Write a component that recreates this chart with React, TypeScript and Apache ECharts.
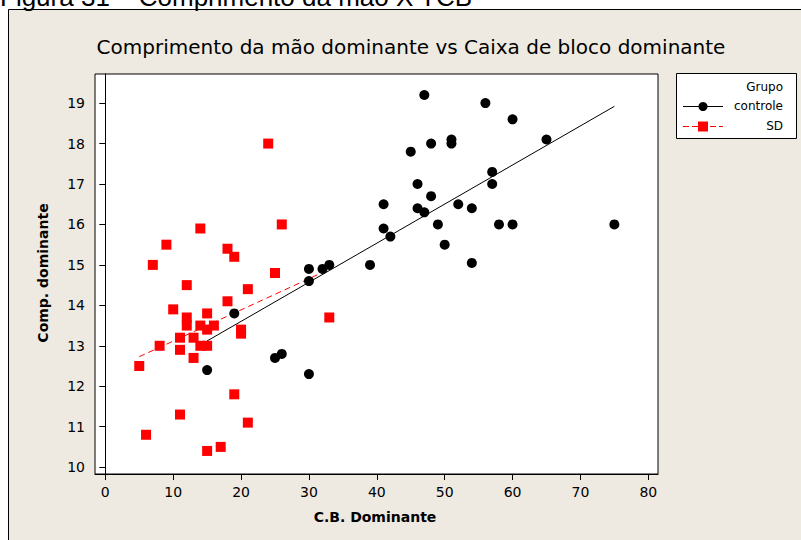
import React, { useEffect, useRef } from "react";
import * as echarts from "echarts";

// Grupo controle (C.B. Dominante, Comp. dominante)
const controleX = [47, 56, 60, 51, 51, 48, 45, 65, 57, 57, 46, 48, 41, 46, 47, 52, 54, 41, 42, 49, 58, 60, 75, 50, 54, 39, 30, 32, 33, 30, 19, 15, 25, 26, 30];
const controleY = [19.2, 19.0, 18.6, 18.1, 18.0, 18.0, 17.8, 18.1, 17.3, 17.0, 17.0, 16.7, 16.5, 16.4, 16.3, 16.5, 16.4, 15.9, 15.7, 16.0, 16.0, 16.0, 16.0, 15.5, 15.05, 15.0, 14.9, 14.9, 15.0, 14.6, 13.8, 12.4, 12.7, 12.8, 12.3];

// Grupo SD
const sdX = [24, 14, 26, 9, 18, 19, 7, 25, 12, 21, 18, 10, 15, 33, 12, 12, 14, 15, 16, 20, 20, 11, 13, 8, 14, 15, 11, 13, 5, 19, 11, 21, 6, 15, 17];
const sdY = [18.0, 15.9, 16.0, 15.5, 15.4, 15.2, 15.0, 14.8, 14.5, 14.4, 14.1, 13.9, 13.8, 13.7, 13.7, 13.5, 13.5, 13.4, 13.5, 13.4, 13.3, 13.2, 13.2, 13.0, 13.0, 13.0, 12.9, 12.7, 12.5, 11.8, 11.3, 11.1, 10.8, 10.4, 10.5];

// Fitted lines (endpoints)
const fitControleX = [15, 75];
const fitControleY = [13.12, 18.92];
const fitSDX = [5, 33];
const fitSDY = [12.73, 14.89];

const xTicks = [0, 10, 20, 30, 40, 50, 60, 70, 80];
const yTicks = [10, 11, 12, 13, 14, 15, 16, 17, 18, 19];

const caption = "Figura 31 – Comprimento da mão X TCB";
const chartTitle = "Comprimento da mão dominante vs Caixa de bloco dominante";
const xName = "C.B. Dominante";
const yName = "Comp. dominante";
const legendTitle = "Grupo";
const legendNames = ["controle", "SD"];

const FONT = "DejaVu Sans";

export default function App() {
  const ref = useRef<HTMLDivElement>(null);
  useEffect(() => {
    if (!ref.current) return;
    const chart = echarts.init(ref.current, undefined, { renderer: "svg" });
    const zip = (a: number[], b: number[]) => a.map((v, i) => [v, b[i]]);
    chart.setOption({
      animation: false,
      backgroundColor: "#ffffff",
      grid: {
        left: 95,
        top: 74,
        width: 563,
        height: 400,
        show: true,
        backgroundColor: "#ffffff",
        borderColor: "#000000",
        borderWidth: 1,
      },
      xAxis: {
        type: "value",
        min: -1.52,
        max: 81.43,
        axisLine: { show: true, lineStyle: { color: "#000", width: 1 } },
        axisTick: { show: true, customValues: xTicks, length: 6, lineStyle: { color: "#000" } },
        axisLabel: {
          customValues: xTicks,
          margin: 11,
          color: "#000",
          fontFamily: FONT,
          fontSize: 14,
        },
        splitLine: { show: false },
      },
      yAxis: {
        type: "value",
        min: 9.83,
        max: 19.72,
        axisLine: { show: true, lineStyle: { color: "#000", width: 1 } },
        axisTick: { show: true, customValues: yTicks, length: 6, lineStyle: { color: "#000" } },
        axisLabel: {
          customValues: yTicks,
          margin: 10,
          color: "#000",
          fontFamily: FONT,
          fontSize: 14,
        },
        splitLine: { show: false },
      },
      series: [
        {
          name: "SD",
          type: "scatter",
          symbol: "rect",
          symbolSize: 10,
          itemStyle: { color: "#ff0000", opacity: 1 },
          data: zip(sdX, sdY),
          z: 2,
        },
        {
          name: "SD fit",
          type: "line",
          showSymbol: false,
          symbol: "none",
          lineStyle: { color: "#ff0000", width: 1, type: [6, 4] },
          data: zip(fitSDX, fitSDY),
          z: 3,
        },
        {
          name: "controle",
          type: "scatter",
          symbol: "circle",
          symbolSize: 10,
          itemStyle: { color: "#000000", opacity: 1 },
          data: zip(controleX, controleY),
          z: 4,
        },
        {
          name: "controle fit",
          type: "line",
          showSymbol: false,
          symbol: "none",
          lineStyle: { color: "#000000", width: 1 },
          data: zip(fitControleX, fitControleY),
          z: 5,
        },
      ],
      graphic: [
        {
          type: "rect",
          z: -10,
          silent: true,
          shape: { x: 8.5, y: 9.5, width: 900, height: 700 },
          style: { fill: "#EEEAE1", stroke: "#000", lineWidth: 1 },
        },
        {
          type: "text",
          z: -5,
          x: 0,
          y: -3,
          style: {
            text: caption,
            fontFamily: "Liberation Sans",
            fontSize: 26,
            fill: "#000",
            align: "left",
            verticalAlign: "middle",
          },
        },
        {
          type: "text",
          x: 411,
          y: 47,
          style: {
            text: chartTitle,
            fontFamily: FONT,
            fontSize: 20,
            fill: "#000",
            align: "center",
            verticalAlign: "middle",
          },
        },
        {
          type: "text",
          x: 375,
          y: 517,
          style: {
            text: xName,
            fontFamily: FONT,
            fontSize: 14,
            fontWeight: "bold",
            fill: "#000",
            align: "center",
            verticalAlign: "middle",
          },
        },
        {
          type: "text",
          x: 43,
          y: 273,
          rotation: Math.PI / 2,
          style: {
            text: yName,
            fontFamily: FONT,
            fontSize: 14,
            fontWeight: "bold",
            fill: "#000",
            align: "center",
            verticalAlign: "middle",
          },
        },
        // Legend box
        {
          type: "rect",
          shape: { x: 676.5, y: 73.5, width: 120, height: 65 },
          style: { fill: "#ffffff", stroke: "#000", lineWidth: 1 },
        },
        {
          type: "text",
          x: 783,
          y: 87,
          style: { text: legendTitle, fontFamily: FONT, fontSize: 12, fill: "#000", align: "right", verticalAlign: "middle" },
        },
        {
          type: "line",
          shape: { x1: 683, y1: 106.5, x2: 723, y2: 106.5 },
          style: { stroke: "#000", lineWidth: 1 },
        },
        {
          type: "circle",
          shape: { cx: 703, cy: 106.5, r: 4.5 },
          style: { fill: "#000" },
        },
        {
          type: "text",
          x: 783,
          y: 106,
          style: { text: legendNames[0], fontFamily: FONT, fontSize: 12, fill: "#000", align: "right", verticalAlign: "middle" },
        },
        {
          type: "line",
          shape: { x1: 683, y1: 126.5, x2: 723, y2: 126.5 },
          style: { stroke: "#ff0000", lineWidth: 1, lineDash: [6, 3] },
        },
        {
          type: "rect",
          shape: { x: 698, y: 121.5, width: 10, height: 10 },
          style: { fill: "#ff0000" },
        },
        {
          type: "text",
          x: 783,
          y: 126,
          style: { text: legendNames[1], fontFamily: FONT, fontSize: 12, fill: "#000", align: "right", verticalAlign: "middle" },
        },
      ],
    });
    return () => chart.dispose();
  }, []);
  return (
    <div
      ref={ref}
      style={{ position: "fixed", left: 0, top: 0, width: 801, height: 540 }}
    />
  );
}
